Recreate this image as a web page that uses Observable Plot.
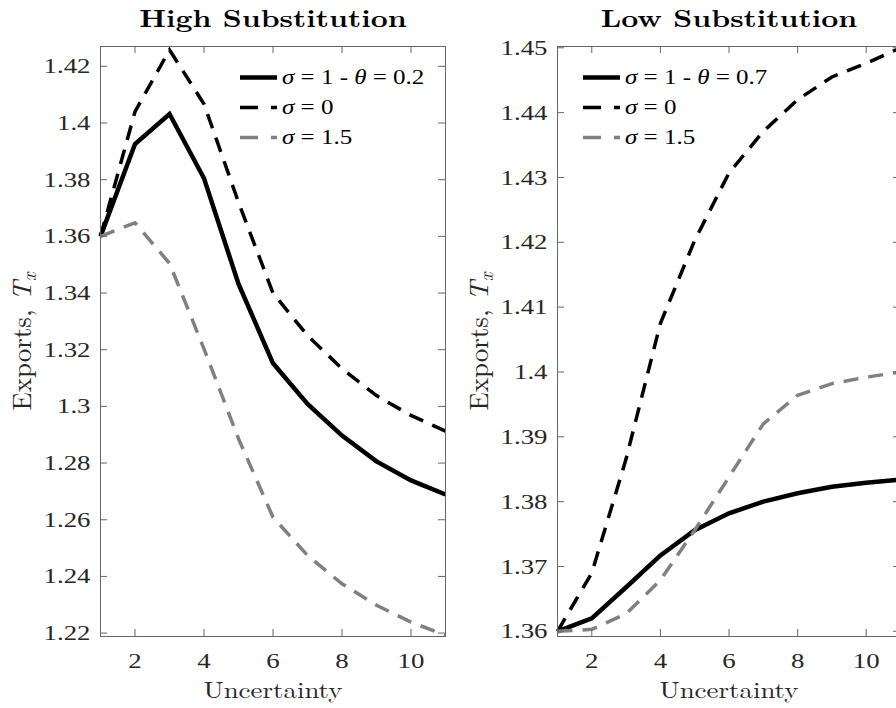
<!DOCTYPE html>
<html><head><meta charset="utf-8">
<script src="https://cdn.jsdelivr.net/npm/d3@7"></script>
<script src="https://cdn.jsdelivr.net/npm/@observablehq/plot@0.6"></script>
<style>
html,body{margin:0;padding:0;background:#fff;overflow:hidden;}
#wrap{position:relative;width:896px;height:708px;overflow:hidden;background:#fff;}
#wrap > .panel{position:absolute;top:0;}
#wrap svg{max-width:none !important;}
</style></head><body><div id="wrap"></div>
<script>
// ---- data ----
const uncertainty = [1, 2, 3, 4, 5, 6, 7, 8, 9, 10, 11];
const xTicks = [2, 4, 6, 8, 10];

const highTitle = "High Substitution";
const highLegend = ["0.2", "0", "1.5"];
const highBase    = [1.360, 1.3926, 1.4032, 1.3805, 1.3432, 1.3152, 1.3009, 1.2897, 1.2806, 1.2739, 1.2689];
const highSigma0  = [1.360, 1.4040, 1.4258, 1.4067, 1.3720, 1.3400, 1.3250, 1.3133, 1.3038, 1.2968, 1.2913];
const highSigma15 = [1.360, 1.3648, 1.3505, 1.3203, 1.2886, 1.2609, 1.2474, 1.2374, 1.2298, 1.2239, 1.2192];
const highYTicks  = [1.22, 1.24, 1.26, 1.28, 1.30, 1.32, 1.34, 1.36, 1.38, 1.40, 1.42];

const lowTitle = "Low Substitution";
const lowLegend = ["0.7", "0", "1.5"];
const lowBase    = [1.360, 1.3620, 1.3668, 1.3717, 1.3756, 1.3782, 1.3800, 1.3813, 1.3823, 1.3829, 1.3834];
const lowSigma0  = [1.360, 1.3690, 1.3866, 1.4075, 1.4203, 1.4307, 1.4371, 1.4420, 1.4455, 1.4476, 1.4500];
const lowSigma15 = [1.360, 1.3603, 1.3627, 1.3679, 1.3756, 1.3838, 1.3920, 1.3964, 1.3982, 1.3992, 1.4000];
const lowYTicks  = [1.36, 1.37, 1.38, 1.39, 1.40, 1.41, 1.42, 1.43, 1.44, 1.45];

const xLabel = "Uncertainty";
const yLabel = "Exports, T_x";

// ---- styles ----
const SERIF = "Liberation Serif, Times New Roman, serif";
const LATEX = "Latin Modern Roman, Liberation Serif, serif";
const styles = [
  {stroke: "#000", strokeWidth: 4.5, dash: null},
  {stroke: "#000", strokeWidth: 3.5, dash: "15,10"},
  {stroke: "#808080", strokeWidth: 3.5, dash: "15,10"}
];
const fmt = d => String(+d.toFixed(2));
const H = 708, MT = 46, MB = 72;
const TICK = 7;
const SVGNS = "http://www.w3.org/2000/svg";

// scale a rendered text element about an anchor point (wide reference glyphs)
function stretch(svgEl, el, mode, s) {
  const r = el.getBoundingClientRect();
  const sx = mode === "right" ? r.right : (r.left + r.right) / 2;
  const sy = (r.top + r.bottom) / 2;
  const parent = el.parentNode;
  const pt = svgEl.createSVGPoint();
  pt.x = sx; pt.y = sy;
  const p = pt.matrixTransform(parent.getScreenCTM().inverse());
  const g = document.createElementNS(SVGNS, "g");
  parent.insertBefore(g, el);
  g.appendChild(el);
  const sc = mode === "vertical" ? `scale(1,${s})` : `scale(${s},1)`;
  g.setAttribute("transform", `translate(${p.x},${p.y}) ${sc} translate(${-p.x},${-p.y})`);
}

function panel(cfg) {
  const {title, series, legend, yDomain, yTicks, width, marginLeft, marginRight, left, legendX} = cfg;
  const plotW = width - marginLeft - marginRight;
  const plotH = H - MT - MB;
  const marks = [];
  series.forEach((vals, i) => {
    const st = styles[i];
    marks.push(Plot.line(uncertainty.map((x, j) => ({x, y: vals[j]})), {
      x: "x", y: "y", stroke: st.stroke, strokeWidth: st.strokeWidth,
      strokeDasharray: st.dash, strokeLinecap: "butt", strokeLinejoin: "miter", strokeMiterlimit: 4
    }));
  });
  marks.push(
    Plot.frame({stroke: "#666", strokeWidth: 1}),
    Plot.tickY(yTicks, {y: d => d, insetRight: plotW - TICK, stroke: "#666"}),
    Plot.tickY(yTicks, {y: d => d, insetLeft: plotW - TICK, stroke: "#666"}),
    Plot.tickX(xTicks, {x: d => d, insetTop: plotH - TICK, stroke: "#666"}),
    Plot.tickX(xTicks, {x: d => d, insetBottom: plotH - TICK, stroke: "#666"}),
    Plot.axisY(yTicks, {tickSize: 0, tickPadding: 10, tickFormat: fmt, label: null,
      fontSize: 22, fontFamily: SERIF, fill: "#262626"}),
    Plot.axisX(xTicks, {tickSize: 0, tickPadding: 16, tickFormat: d => String(d), label: null,
      fontSize: 22, fontFamily: SERIF, fill: "#262626"}),
    Plot.text([title], {text: d => d, frameAnchor: "top", lineAnchor: "middle", textAnchor: "middle",
      dy: -27, fontFamily: LATEX, fontWeight: "bold", fontSize: 24.5, fill: "#000"}),
    Plot.text([xLabel], {text: d => d, frameAnchor: "bottom", lineAnchor: "middle", textAnchor: "middle",
      dy: 54.5, fontFamily: LATEX, fontSize: 23, fill: "#262626"}),
    Plot.text([yLabel], {text: d => d, frameAnchor: "left", lineAnchor: "middle", textAnchor: "middle",
      dx: -78, rotate: -90, fontFamily: LATEX, fontSize: 27, fill: "#262626"})
  );
  const chart = Plot.plot({
    width, height: H, marginLeft, marginRight, marginTop: MT, marginBottom: MB,
    x: {domain: [1, 11]},
    y: {domain: yDomain},
    style: {background: "transparent", fontFamily: SERIF, fontSize: "20px", color: "#262626",
      overflow: "visible", maxWidth: "none"},
    marks
  });
  const svg = d3.select(chart);
  svg.attr("width", width).style("width", width + "px").style("max-width", "none");
  // y label with italic T and subscript x
  svg.selectAll("text").filter(function() { return this.textContent === yLabel; }).each(function() {
    const t = d3.select(this);
    t.text("");
    t.append("tspan").text("Exports, ");
    t.append("tspan").attr("font-style", "italic").text("T");
    t.append("tspan").attr("font-style", "italic").attr("font-size", "19").attr("dy", "5").text("x");
  });
  // legend
  const g = svg.append("g").attr("font-family", SERIF).attr("font-size", 20)
    .attr("fill", "#000").attr("text-anchor", "start");
  const rowY = [77.5, 107.5, 137.5];
  legend.forEach((val, i) => {
    const st = styles[i];
    g.append("line").attr("x1", legendX).attr("x2", legendX + 37).attr("y1", rowY[i]).attr("y2", rowY[i])
      .attr("stroke", st.stroke).attr("stroke-width", st.strokeWidth)
      .attr("stroke-dasharray", st.dash ? "18,13" : null);
    const t = g.append("text").attr("transform", `translate(${legendX + 42},${rowY[i]}) scale(1.25,1)`)
      .attr("dy", "0.34em");
    t.append("tspan").attr("font-style", "italic").text("σ");
    if (i === 0) {
      t.append("tspan").text(" = 1 - ");
      t.append("tspan").attr("font-style", "italic").text("θ");
      t.append("tspan").text(" = " + val);
    } else {
      t.append("tspan").text(" = " + val);
    }
  });
  const div = document.createElement("div");
  div.className = "panel";
  div.style.left = left + "px";
  div.style.width = width + "px";
  div.appendChild(chart);
  document.getElementById("wrap").appendChild(div);

  // post-layout stretching of text
  const yTickTexts = svg.selectAll("g[aria-label='y-axis tick label'] text").nodes();
  const xTickTexts = svg.selectAll("g[aria-label='x-axis tick label'] text").nodes();
  yTickTexts.forEach(el => stretch(chart, el, "right", 1.22));
  xTickTexts.forEach(el => stretch(chart, el, "center", 1.22));
  svg.selectAll("text").nodes().forEach(el => {
    const tc = el.textContent;
    if (tc === title) stretch(chart, el, "center", 1.21);
    else if (tc === xLabel) stretch(chart, el, "center", 1.17);
  });
}

panel({
  title: highTitle, series: [highBase, highSigma0, highSigma15], legend: highLegend,
  yDomain: [1.2188, 1.4270], yTicks: highYTicks,
  width: 450, marginLeft: 100, marginRight: 5, left: 0, legendX: 240
});
panel({
  title: lowTitle, series: [lowBase, lowSigma0, lowSigma15], legend: lowLegend,
  yDomain: [1.3592, 1.4502], yTicks: lowYTicks,
  width: 460, marginLeft: 107, marginRight: 10, left: 450, legendX: 133
});
</script></body></html>
